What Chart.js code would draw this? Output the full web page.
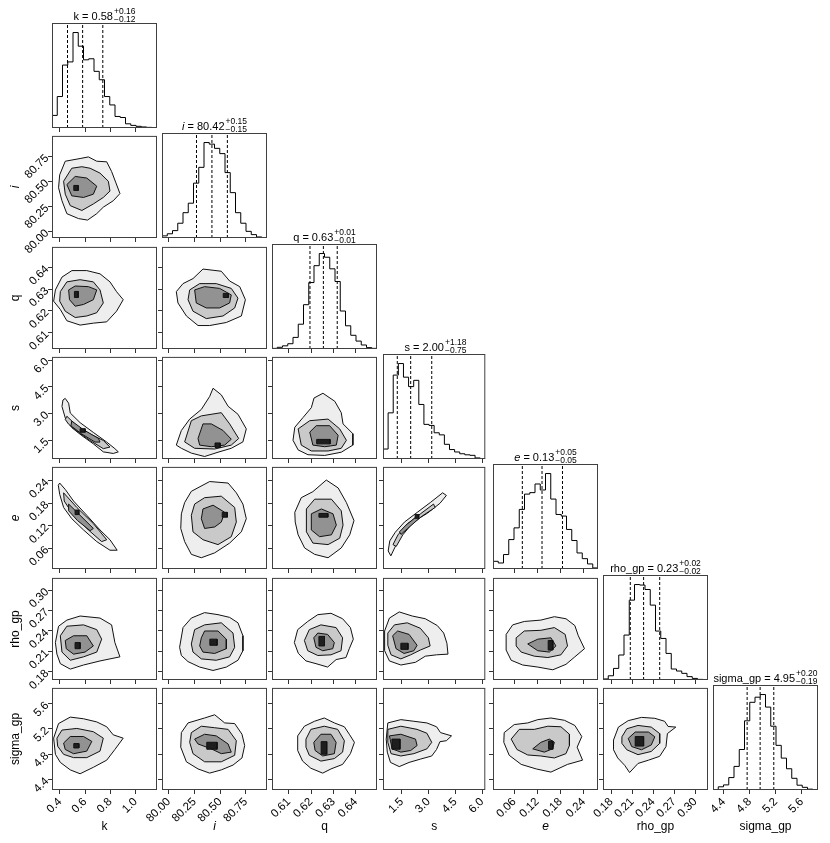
<!DOCTYPE html>
<html>
<head>
<meta charset="utf-8">
<script src="https://cdn.jsdelivr.net/npm/chart.js@4.4.0/dist/chart.umd.min.js"></script>
<style>
  body { margin: 0; background: #fff; width: 830px; height: 843px; position: relative; overflow: hidden;
         font-family: 'Liberation Sans', Arial, sans-serif; }
  canvas.panel { position: absolute; }
  .ttl { position: absolute; height: 17px; transform: translateX(-50%); white-space: nowrap; color: #000;
         display: flex; align-items: flex-end; font-size: 11px; line-height: 14px; }
  .ss { display: inline-flex; flex-direction: column; font-size: 8.5px; line-height: 8px; margin-left: 1px; }
</style>
</head>
<body>
<script>
'use strict';

//************** PARAMETERS ********** */
let paramNames = ['k', 'i', 'q', 's', 'e', 'rho_gp', 'sigma_gp'];
let italicParams = ['i', 'e'];
let axisLow = [0.337, 79.935, 0.6025, 0.45, 0.005, 0.168, 4.235];
let axisHigh = [1.170, 80.955, 0.6495, 6.18, 0.277, 0.318, 5.850];

//************** TICK LABELS ********** */
let kTicks = ['0.4', '0.6', '0.8', '1.0'];
let iTicks = ['80.00', '80.25', '80.50', '80.75'];
let qTicks = ['0.61', '0.62', '0.63', '0.64'];
let sTicks = ['1.5', '3.0', '4.5', '6.0'];
let eTicks = ['0.06', '0.12', '0.18', '0.24'];
let rhoTicks = ['0.18', '0.21', '0.24', '0.27', '0.30'];
let sigmaTicks = ['4.4', '4.8', '5.2', '5.6'];

//************** 1D HISTOGRAMS (20 bins across the axis range) ********** */
let kCounts = [120, 300, 600, 630, 910, 780, 650, 660, 540, 460, 300, 220, 110, 100, 40, 25, 16, 10, 6, 3];
let iCounts = [20, 40, 70, 140, 240, 330, 520, 670, 905, 890, 850, 800, 620, 430, 240, 140, 63, 32, 10, 3];
let qCounts = [6, 16, 30, 50, 110, 235, 420, 630, 790, 905, 870, 760, 640, 360, 220, 130, 75, 38, 13, 6];
let sCounts = [95, 440, 800, 910, 780, 690, 750, 520, 330, 320, 250, 230, 140, 90, 67, 50, 40, 35, 10, 3];
let eCounts = [73, 57, 137, 279, 390, 565, 710, 724, 806, 749, 905, 663, 517, 502, 375, 270, 152, 98, 48, 10];
let rhoCounts = [10, 40, 110, 237, 426, 757, 905, 900, 858, 710, 464, 394, 252, 104, 85, 63, 32, 15, 6, 3];
let sigmaCounts = [3, 30, 48, 117, 222, 381, 651, 825, 873, 898, 780, 600, 420, 300, 200, 110, 45, 25, 8, 3];

//************** QUANTILES 16 / 50 / 84 ********** */
let kQuant = [0.46, 0.58, 0.74];
let iQuant = [80.27, 80.42, 80.57];
let qQuant = [0.6195, 0.6255, 0.6317];
let sQuant = [1.25, 2.00, 3.18];
let eQuant = [0.081, 0.132, 0.185];
let rhoQuant = [0.207, 0.226, 0.249];
let sigmaQuant = [4.76, 4.96, 5.17];

//************** TITLE VALUES ********** */
let kTitle = ['0.58', '+0.16', '−0.12'];
let iTitle = ['80.42', '+0.15', '−0.15'];
let qTitle = ['0.63', '+0.01', '−0.01'];
let sTitle = ['2.00', '+1.18', '−0.75'];
let eTitle = ['0.13', '+0.05', '−0.05'];
let rhoTitle = ['0.23', '+0.02', '−0.02'];
let sigmaTitle = ['4.95', '+0.20', '−0.19'];

//************** 2D CONTOURS: [outer, middle, inner, core] as [x, y] ********** */
let iVsK = [
  [[.398,80.566],[.442,80.702],[.560,80.729],[.626,80.745],[.692,80.702],[.771,80.696],[.810,80.599],[.844,80.486],[.876,80.379],[.823,80.307],[.744,80.243],[.692,80.178],[.619,80.114],[.547,80.129],[.455,80.178],[.416,80.307],[.389,80.437]],
  [[.429,80.502],[.494,80.632],[.574,80.647],[.639,80.632],[.718,80.583],[.784,80.502],[.797,80.404],[.744,80.340],[.665,80.275],[.574,80.210],[.482,80.258],[.442,80.373]],
  [[.455,80.469],[.521,80.550],[.613,80.534],[.692,80.453],[.665,80.373],[.587,80.340],[.494,80.356]],
  [[.51,80.46],[.545,80.46],[.545,80.41],[.51,80.41]]
];
let qVsK = [
  [[.364,.6297],[.416,.6356],[.495,.6386],[.613,.6386],[.718,.6371],[.797,.6334],[.849,.6289],[.902,.6252],[.849,.6199],[.771,.6150],[.665,.6144],[.560,.6135],[.455,.6155],[.403,.6207],[.350,.6245]],
  [[.403,.6289],[.455,.6334],[.560,.6344],[.665,.6334],[.718,.6297],[.744,.6237],[.692,.6192],[.613,.6177],[.521,.6170],[.442,.6199],[.398,.6245]],
  [[.469,.6297],[.521,.6315],[.626,.6312],[.692,.6297],[.665,.6252],[.587,.6230],[.521,.6222],[.476,.6252]],
  [[.515,.6290],[.545,.6290],[.545,.6262],[.515,.6262]]
];
let sVsK = [
  [[.442,3.85],[.469,3.58],[.482,3.03],[.560,2.49],[.665,1.94],[.771,1.40],[.836,1.03],[.863,0.85],[.823,0.76],[.744,0.85],[.665,1.30],[.574,1.76],[.494,2.21],[.442,2.76],[.416,3.40],[.424,3.76]],
  [[.455,2.85],[.534,2.31],[.639,1.85],[.744,1.49],[.797,1.12],[.744,1.03],[.639,1.49],[.547,1.94],[.469,2.40],[.442,2.67]],
  [[.494,2.58],[.587,2.09],[.705,1.61],[.718,1.40],[.679,1.40],[.574,1.85],[.487,2.31]],
  [[.56,2.15],[.60,2.15],[.60,1.95],[.56,1.95]]
];
let eVsK = [
  [[.398,.234],[.442,.217],[.508,.186],[.613,.148],[.718,.109],[.797,.083],[.854,.055],[.797,.055],[.692,.078],[.587,.109],[.494,.139],[.429,.169],[.398,.204],[.387,.228]],
  [[.429,.208],[.534,.169],[.665,.126],[.771,.083],[.731,.078],[.626,.109],[.508,.148],[.434,.186]],
  [[.469,.178],[.560,.148],[.665,.113],[.639,.107],[.539,.134],[.469,.160]],
  [[.52,.162],[.55,.162],[.55,.150],[.52,.150]]
];
let rhoVsK = [
  [[.364,.223],[.389,.247],[.455,.256],[.560,.262],[.718,.259],[.810,.249],[.836,.223],[.876,.202],[.718,.196],[.587,.190],[.482,.184],[.403,.192],[.376,.206]],
  [[.403,.233],[.455,.247],[.587,.249],[.692,.242],[.731,.228],[.692,.209],[.587,.202],[.482,.197],[.416,.209]],
  [[.442,.226],[.508,.233],[.613,.233],[.665,.218],[.599,.209],[.508,.206],[.450,.214]],
  [[.52,.223],[.56,.223],[.56,.214],[.52,.214]]
];
let sigmaVsK = [
  [[.350,5.055],[.389,5.286],[.482,5.388],[.587,5.362],[.692,5.312],[.771,5.235],[.823,5.107],[.902,5.055],[.836,4.876],[.771,4.707],[.665,4.594],[.560,4.492],[.482,4.553],[.403,4.671],[.364,4.799]],
  [[.376,5.055],[.416,5.183],[.534,5.209],[.665,5.157],[.744,5.055],[.718,4.850],[.613,4.747],[.508,4.747],[.429,4.799],[.382,4.928]],
  [[.429,4.978],[.482,5.081],[.587,5.081],[.653,5.004],[.613,4.850],[.508,4.809],[.442,4.876]],
  [[.51,4.97],[.55,4.97],[.55,4.90],[.51,4.90]]
];
let qVsI = [
  [[80.074,.6289],[80.139,.6326],[80.236,.6349],[80.333,.6393],[80.511,.6383],[80.592,.6338],[80.690,.6312],[80.745,.6252],[80.706,.6177],[80.560,.6147],[80.398,.6133],[80.285,.6133],[80.172,.6177],[80.090,.6237]],
  [[80.204,.6297],[80.301,.6326],[80.462,.6326],[80.608,.6304],[80.673,.6259],[80.641,.6214],[80.528,.6177],[80.365,.6165],[80.236,.6199],[80.188,.6252]],
  [[80.252,.6297],[80.349,.6312],[80.495,.6304],[80.608,.6274],[80.592,.6237],[80.495,.6214],[80.365,.6214],[80.268,.6237]],
  [[80.53,.6281],[80.58,.6281],[80.58,.6262],[80.53,.6262]]
];
let sVsI = [
  [[80.074,1.23],[80.123,2.05],[80.204,2.69],[80.317,3.23],[80.398,3.96],[80.431,4.42],[80.511,4.05],[80.577,3.41],[80.673,2.96],[80.754,2.14],[80.721,1.41],[80.608,1.05],[80.479,0.83],[80.349,0.59],[80.220,0.78],[80.123,1.05]],
  [[80.155,1.41],[80.220,2.60],[80.317,2.87],[80.511,3.05],[80.592,2.42],[80.680,1.60],[80.608,1.23],[80.447,1.01],[80.252,1.05]],
  [[80.285,1.60],[80.333,2.42],[80.414,2.42],[80.528,2.05],[80.608,1.56],[80.544,1.23],[80.414,1.14],[80.301,1.23]],
  [[80.45,1.35],[80.50,1.35],[80.50,1.10],[80.45,1.10]]
];
let eVsI = [
  [[80.155,.182],[80.220,.212],[80.398,.238],[80.577,.234],[80.657,.208],[80.721,.178],[80.754,.139],[80.706,.104],[80.592,.074],[80.447,.048],[80.317,.035],[80.220,.044],[80.155,.078],[80.117,.113],[80.123,.152]],
  [[80.252,.178],[80.349,.195],[80.511,.199],[80.641,.169],[80.657,.130],[80.608,.091],[80.479,.070],[80.333,.083],[80.236,.104],[80.220,.148]],
  [[80.333,.165],[80.431,.175],[80.544,.156],[80.511,.130],[80.447,.117],[80.349,.113],[80.317,.139]],
  [[80.52,.156],[80.57,.156],[80.57,.143],[80.52,.143]]
];
let rhoVsI = [
  [[80.106,.216],[80.139,.245],[80.220,.259],[80.349,.267],[80.479,.264],[80.592,.260],[80.673,.252],[80.721,.233],[80.721,.211],[80.673,.197],[80.560,.187],[80.431,.182],[80.301,.187],[80.188,.195],[80.123,.204]],
  [[80.220,.221],[80.252,.242],[80.349,.249],[80.511,.252],[80.625,.237],[80.641,.216],[80.592,.202],[80.462,.197],[80.317,.199],[80.236,.209]],
  [[80.317,.230],[80.349,.240],[80.479,.240],[80.560,.228],[80.560,.214],[80.447,.207],[80.333,.209],[80.301,.218]],
  [[80.40,.228],[80.47,.228],[80.47,.219],[80.40,.219]]
];
let sigmaVsI = [
  [[80.123,5.143],[80.188,5.296],[80.349,5.374],[80.447,5.425],[80.544,5.296],[80.641,5.286],[80.712,5.117],[80.738,4.938],[80.712,4.742],[80.625,4.629],[80.511,4.553],[80.398,4.502],[80.285,4.568],[80.172,4.681],[80.117,4.912]],
  [[80.220,5.143],[80.317,5.244],[80.447,5.220],[80.577,5.194],[80.657,5.015],[80.641,4.784],[80.511,4.681],[80.349,4.681],[80.236,4.810],[80.204,4.989]],
  [[80.252,5.040],[80.349,5.117],[80.462,5.091],[80.577,4.963],[80.608,4.834],[80.511,4.810],[80.414,4.886],[80.285,4.963]],
  [[80.37,4.99],[80.47,4.99],[80.47,4.88],[80.37,4.88]]
];
let sVsQ = [
  [[.6127,2.23],[.6164,2.78],[.6201,3.33],[.6213,3.87],[.6253,4.14],[.6306,3.69],[.6335,3.05],[.6343,2.42],[.6387,1.87],[.6387,1.23],[.6335,0.83],[.6261,0.65],[.6186,0.69],[.6142,0.96],[.6119,1.50]],
  [[.6142,2.14],[.6194,2.60],[.6276,2.69],[.6328,2.14],[.6358,1.50],[.6335,1.05],[.6276,0.90],[.6201,0.90],[.6156,1.23]],
  [[.6194,1.96],[.6223,2.32],[.6283,2.32],[.6321,1.78],[.6313,1.23],[.6261,1.14],[.6208,1.23]],
  [[.6225,1.55],[.6285,1.55],[.6285,1.30],[.6225,1.30]]
];
let eVsQ = [
  [[.6127,.156],[.6156,.195],[.6208,.211],[.6268,.242],[.6321,.221],[.6358,.182],[.6392,.134],[.6373,.096],[.6335,.061],[.6276,.035],[.6216,.044],[.6171,.061],[.6142,.096],[.6129,.130]],
  [[.6179,.165],[.6216,.191],[.6291,.191],[.6335,.160],[.6343,.122],[.6328,.087],[.6276,.070],[.6208,.074],[.6179,.104]],
  [[.6201,.152],[.6246,.165],[.6298,.152],[.6313,.122],[.6291,.096],[.6238,.091],[.6201,.109]],
  [[.6235,.153],[.6275,.153],[.6275,.143],[.6235,.143]]
];
let rhoVsQ = [
  [[.6125,.223],[.6140,.242],[.6185,.254],[.6230,.264],[.6289,.266],[.6341,.258],[.6376,.245],[.6389,.228],[.6371,.214],[.6356,.201],[.6312,.198],[.6274,.187],[.6222,.192],[.6177,.196],[.6143,.207]],
  [[.6170,.226],[.6192,.242],[.6244,.249],[.6312,.245],[.6341,.230],[.6334,.211],[.6289,.205],[.6230,.204],[.6185,.211]],
  [[.6212,.230],[.6230,.237],[.6274,.235],[.6304,.223],[.6297,.214],[.6252,.211],[.6222,.216]],
  [[.6235,.232],[.6260,.232],[.6260,.218],[.6235,.218]]
];
let sigmaVsQ = [
  [[.6140,5.091],[.6170,5.244],[.6215,5.322],[.6259,5.374],[.6304,5.296],[.6349,5.235],[.6371,5.117],[.6394,4.989],[.6376,4.810],[.6341,4.640],[.6289,4.568],[.6252,4.502],[.6199,4.579],[.6162,4.692],[.6140,4.860]],
  [[.6177,5.040],[.6199,5.194],[.6259,5.244],[.6319,5.194],[.6349,5.015],[.6341,4.834],[.6304,4.732],[.6244,4.692],[.6192,4.784],[.6177,4.912]],
  [[.6212,4.989],[.6244,5.117],[.6289,5.117],[.6312,4.989],[.6304,4.810],[.6252,4.773],[.6218,4.860]],
  [[.6245,5.0],[.6270,5.0],[.6270,4.8],[.6245,4.8]]
];
let eVsS = [
  [[0.74,.053],[0.83,.080],[1.14,.103],[1.65,.130],[2.37,.156],[3.10,.182],[3.79,.208],[4.00,.201],[3.64,.180],[2.95,.154],[2.37,.137],[1.79,.115],[1.37,.087],[1.10,.061],[0.89,.040]],
  [[1.01,.070],[1.29,.096],[1.83,.126],[2.55,.152],[3.28,.178],[3.37,.169],[2.64,.146],[2.01,.122],[1.56,.096],[1.19,.065]],
  [[1.37,.104],[1.74,.122],[2.37,.146],[2.46,.139],[1.83,.113],[1.46,.097]],
  [[2.25,.150],[2.45,.150],[2.45,.140],[2.25,.140]]
];
let rhoVsS = [
  [[0.54,.240],[0.81,.259],[1.36,.268],[2.09,.262],[2.82,.258],[3.49,.248],[3.85,.237],[4.03,.222],[4.09,.206],[3.45,.205],[2.82,.203],[2.27,.194],[1.45,.190],[0.81,.196],[0.54,.211]],
  [[0.72,.237],[1.09,.249],[1.81,.252],[2.54,.244],[2.99,.230],[3.09,.218],[2.54,.212],[2.00,.205],[1.45,.199],[0.90,.205],[0.72,.219]],
  [[0.99,.233],[1.27,.240],[1.91,.235],[2.36,.219],[2.18,.211],[1.63,.207],[1.18,.214]],
  [[1.45,.222],[1.85,.222],[1.85,.213],[1.45,.213]]
];
let sigmaVsS = [
  [[0.72,5.296],[1.45,5.348],[2.18,5.322],[2.91,5.296],[3.45,5.235],[3.67,5.143],[4.29,5.091],[4.00,5.015],[3.64,4.999],[3.45,4.876],[3.18,4.773],[2.54,4.723],[1.91,4.671],[1.36,4.605],[0.87,4.671],[0.69,4.834],[0.63,5.040]],
  [[0.72,5.194],[1.45,5.244],[2.36,5.194],[2.91,5.133],[3.18,4.989],[2.91,4.886],[2.18,4.810],[1.45,4.773],[0.90,4.810],[0.72,4.989]],
  [[0.81,5.091],[1.45,5.117],[2.27,5.040],[2.36,4.938],[2.00,4.860],[1.45,4.834],[0.96,4.886]],
  [[0.95,5.04],[1.40,5.04],[1.40,4.88],[0.95,4.88]]
];
let rhoVsE = [
  [[.039,.235],[.056,.249],[.086,.254],[.129,.256],[.164,.261],[.194,.258],[.217,.248],[.226,.233],[.242,.214],[.217,.202],[.194,.191],[.160,.183],[.121,.187],[.082,.190],[.052,.197],[.039,.212]],
  [[.065,.230],[.086,.240],[.129,.241],[.164,.245],[.192,.235],[.198,.218],[.181,.205],[.147,.201],[.112,.203],[.078,.209],[.065,.218]],
  [[.095,.221],[.121,.228],[.155,.230],[.168,.218],[.151,.209],[.121,.211]],
  [[.148,.226],[.160,.226],[.160,.212],[.148,.212]]
];
let sigmaVsE = [
  [[.034,5.143],[.060,5.270],[.095,5.296],[.121,5.348],[.155,5.374],[.190,5.338],[.217,5.256],[.235,5.081],[.223,4.912],[.237,4.707],[.198,4.640],[.155,4.518],[.117,4.568],[.078,4.640],[.047,4.784],[.033,4.989]],
  [[.052,5.040],[.073,5.194],[.112,5.194],[.147,5.244],[.181,5.235],[.203,5.117],[.203,4.938],[.194,4.810],[.164,4.742],[.129,4.773],[.095,4.789],[.067,4.876]],
  [[.108,4.886],[.129,4.989],[.151,5.040],[.164,4.989],[.159,4.886],[.138,4.834]],
  [[.149,5.01],[.160,5.01],[.160,4.88],[.149,4.88]]
];
let sigmaVsRho = [
  [[.183,5.025],[.190,5.230],[.204,5.332],[.223,5.384],[.242,5.369],[.256,5.322],[.261,5.240],[.272,5.230],[.260,5.127],[.258,4.922],[.249,4.768],[.233,4.707],[.218,4.655],[.206,4.511],[.199,4.625],[.189,4.742],[.183,4.871]],
  [[.195,5.076],[.202,5.204],[.218,5.256],[.237,5.230],[.249,5.127],[.249,4.973],[.237,4.845],[.218,4.794],[.202,4.871],[.195,4.973]],
  [[.204,5.051],[.214,5.152],[.233,5.152],[.242,5.076],[.237,4.948],[.223,4.871],[.209,4.922]],
  [[.214,5.08],[.226,5.08],[.226,4.93],[.214,4.93]]
];

//************** LOOKUP TABLES ********** */
let tickTable = [kTicks, iTicks, qTicks, sTicks, eTicks, rhoTicks, sigmaTicks];
let countTable = [kCounts, iCounts, qCounts, sCounts, eCounts, rhoCounts, sigmaCounts];
let quantTable = [kQuant, iQuant, qQuant, sQuant, eQuant, rhoQuant, sigmaQuant];
let titleTable = [kTitle, iTitle, qTitle, sTitle, eTitle, rhoTitle, sigmaTitle];
let contourTable = {
  '1-0': iVsK,
  '2-0': qVsK, '2-1': qVsI,
  '3-0': sVsK, '3-1': sVsI, '3-2': sVsQ,
  '4-0': eVsK, '4-1': eVsI, '4-2': eVsQ, '4-3': eVsS,
  '5-0': rhoVsK, '5-1': rhoVsI, '5-2': rhoVsQ, '5-3': rhoVsS, '5-4': rhoVsE,
  '6-0': sigmaVsK, '6-1': sigmaVsI, '6-2': sigmaVsQ, '6-3': sigmaVsS, '6-4': sigmaVsE, '6-5': sigmaVsRho
};

//************** STYLE ********** */
let FONT = "'Liberation Sans', Arial, sans-serif";
let ringFills = ['#eeeeee', '#c9c9c9', '#929292', '#1e1e1e'];
let PANEL = 105;
let AXIS = 60;
let PAD = 5;

Chart.defaults.font.family = FONT;
Chart.defaults.color = '#000';

function panelLeft(c) { return Math.round(52 + 110.2 * c); }
function panelTop(r) { return Math.round(23 + 110.3 * r); }

//************** HELPERS ********** */
let framePlugin = {
  id: 'frame',
  afterDraw(chart) {
    let a = chart.chartArea;
    let ctx = chart.ctx;
    ctx.save();
    ctx.strokeStyle = '#404040';
    ctx.lineWidth = 1;
    ctx.strokeRect(a.left + 0.5, a.top + 0.5, a.right - a.left - 1, a.bottom - a.top - 1);
    ctx.restore();
  }
};

function binEdges(p) {
  let edges = [];
  for (let j = 0; j <= 20; j++) {
    edges.push(axisLow[p] + (axisHigh[p] - axisLow[p]) * j / 20);
  }
  return edges;
}

function axisTitle(p, show) {
  return {
    display: show,
    text: paramNames[p],
    color: '#000',
    font: { family: FONT, size: 12, style: italicParams.includes(paramNames[p]) ? 'italic' : 'normal' },
    padding: { top: 16, bottom: 16 }
  };
}

function xScale(col, showLabels) {
  let labels = tickTable[col];
  return {
    type: 'linear',
    position: 'bottom',
    min: axisLow[col],
    max: axisHigh[col],
    afterBuildTicks: s => { s.ticks = labels.map(t => ({ value: parseFloat(t) })); },
    afterFit: s => { s.height = AXIS; },
    border: { display: false },
    grid: { drawOnChartArea: false, drawTicks: true, tickLength: 4, tickColor: '#333', tickWidth: 1 },
    ticks: {
      autoSkip: false, minRotation: 45, maxRotation: 45, padding: 1, color: '#000',
      font: { family: FONT, size: 11.5 },
      callback: (v, idx) => showLabels ? labels[idx] : ''
    },
    title: axisTitle(col, showLabels)
  };
}

function yScale(row, showLabels) {
  let labels = tickTable[row];
  return {
    type: 'linear',
    position: 'left',
    min: axisLow[row],
    max: axisHigh[row],
    afterBuildTicks: s => { s.ticks = labels.map(t => ({ value: parseFloat(t) })); },
    afterFit: s => { s.width = AXIS; },
    border: { display: false },
    grid: { drawOnChartArea: false, drawTicks: true, tickLength: 4, tickColor: '#333', tickWidth: 1 },
    ticks: {
      autoSkip: false, minRotation: 45, maxRotation: 45, padding: 1, color: '#000',
      font: { family: FONT, size: 11.5 },
      callback: (v, idx) => showLabels ? labels[idx] : ''
    },
    title: axisTitle(row, showLabels)
  };
}

function countScale(p) {
  return {
    type: 'linear',
    position: 'left',
    min: 0,
    max: 1.1 * Math.max(...countTable[p]),
    afterFit: s => { s.width = AXIS; },
    border: { display: false },
    grid: { drawOnChartArea: false, drawTicks: false },
    ticks: { display: false }
  };
}

function makeCanvas(row, col) {
  let cvs = document.createElement('canvas');
  cvs.className = 'panel';
  cvs.width = AXIS + PANEL + PAD;
  cvs.height = PAD + PANEL + AXIS;
  cvs.style.left = (panelLeft(col) - AXIS) + 'px';
  cvs.style.top = (panelTop(row) - PAD) + 'px';
  document.body.appendChild(cvs);
  return cvs;
}

function baseOptions(scales) {
  return {
    responsive: false,
    animation: false,
    events: [],
    devicePixelRatio: 1,
    layout: { autoPadding: false, padding: { top: PAD, right: PAD, left: 0, bottom: 0 } },
    plugins: { legend: { display: false }, tooltip: { enabled: false } },
    scales: scales
  };
}

//************** DIAGONAL HISTOGRAMS ********** */
function renderHist(p) {
  let counts = countTable[p];
  let edges = binEdges(p);
  let stepData = counts.map((c, j) => ({ x: edges[j], y: c }));
  stepData.push({ x: edges[20], y: counts[19] });
  let yMax = 1.1 * Math.max(...counts);

  let datasets = [{
    data: stepData, showLine: true, stepped: 'before',
    borderColor: '#000', borderWidth: 1, pointRadius: 0, fill: false
  }];
  quantTable[p].forEach(qv => {
    datasets.push({
      data: [{ x: qv, y: 0 }, { x: qv, y: yMax }], showLine: true,
      borderColor: '#000', borderWidth: 1, borderDash: [3, 2], pointRadius: 0, fill: false
    });
  });

  new Chart(makeCanvas(p, p), {
    type: 'scatter',
    data: { datasets: datasets },
    options: baseOptions({ x: xScale(p, p === 6), y: countScale(p) }),
    plugins: [framePlugin]
  });
}

//************** 2D CONTOUR PANELS ********** */
function renderPair(row, col) {
  let rings = contourTable[`${row}-${col}`];
  let datasets = rings.map((ring, j) => {
    let pts = ring.map(([x, y]) => ({ x: x, y: y }));
    pts.push({ x: ring[0][0], y: ring[0][1] });
    return {
      data: pts, showLine: true, fill: 'shape', tension: 0,
      backgroundColor: ringFills[j], borderColor: '#111', borderWidth: 1,
      pointRadius: 0, order: rings.length - j
    };
  });

  new Chart(makeCanvas(row, col), {
    type: 'scatter',
    data: { datasets: datasets },
    options: baseOptions({ x: xScale(col, row === 6), y: yScale(row, col === 0) }),
    plugins: [framePlugin]
  });
}

//************** TITLES ********** */
function renderTitle(p) {
  let t = titleTable[p];
  let name = italicParams.includes(paramNames[p]) ? `<i>${paramNames[p]}</i>` : paramNames[p];
  let div = document.createElement('div');
  div.className = 'ttl';
  div.innerHTML = `<span>${name} = ${t[0]}</span><span class="ss"><span>${t[1]}</span><span>${t[2]}</span></span>`;
  div.style.left = (panelLeft(p) + PANEL / 2) + 'px';
  div.style.top = (panelTop(p) - 17) + 'px';
  document.body.appendChild(div);
}

//************** EXECUTABLE CODE ********** */
for (let row = 0; row < 7; row++) {
  for (let col = 0; col < row; col++) {
    renderPair(row, col);
  }
  renderHist(row);
  renderTitle(row);
}
</script>
</body>
</html>
